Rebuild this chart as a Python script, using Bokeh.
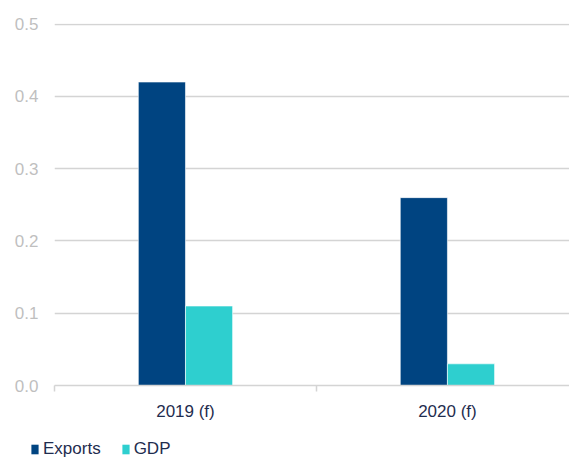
from bokeh.plotting import figure
from bokeh.models import (ColumnDataSource, FixedTicker, Range1d, Legend, LegendItem,
                          NumeralTickFormatter)
from bokeh.transform import dodge
from bokeh.embed import file_html
from bokeh.resources import INLINE

categories = ["2019 (f)", "2020 (f)"]
series = ["Exports", "GDP"]
exports = [0.42, 0.26]
gdp = [0.11, 0.03]
y_ticks = [0.0, 0.1, 0.2, 0.3, 0.4, 0.5]
colors = ["#004481", "#2ECFCF"]

xs = [i + 0.5 for i in range(len(categories))]
src = ColumnDataSource(dict(x=xs, cat=categories, exports=exports, gdp=gdp))

p = figure(width=569, height=425, output_backend="svg", toolbar_location=None,
           x_range=Range1d(0, 1.966), y_range=Range1d(0, 0.501),
           min_border_left=54, min_border_right=0, min_border_top=23, min_border_bottom=40)
p.background_fill_color = "white"
p.border_fill_color = "white"
p.outline_line_color = None

p.vbar(x=dodge("x", -0.09, range=p.x_range), top="exports", width=0.18, source=src,
       fill_color=colors[0], line_color="#FFFFFF", line_width=0.6)
p.vbar(x=dodge("x", 0.09, range=p.x_range), top="gdp", width=0.18, source=src,
       fill_color=colors[1], line_color="#FFFFFF", line_width=0.6)

# x axis
xa = p.xaxis[0]
xa.ticker = FixedTicker(ticks=xs, minor_ticks=list(range(len(categories) + 1)))
xa.major_label_overrides = {x: c for x, c in zip(xs, categories)}
xa.axis_line_color = "#D4D4D4"
xa.axis_line_width = 1.5
xa.major_tick_line_color = None
xa.minor_tick_line_color = "#D4D4D4"
xa.minor_tick_line_width = 1.5
xa.minor_tick_out = 6
xa.minor_tick_in = 0
xa.major_label_text_font = "Liberation Sans"
xa.major_label_text_font_size = "17px"
xa.major_label_text_color = "#1F2D4F"
xa.major_label_standoff = 10
p.xgrid.grid_line_color = None

# y axis
ya = p.yaxis[0]
ya.ticker = FixedTicker(ticks=y_ticks)
ya.formatter = NumeralTickFormatter(format="0.0")
ya.axis_line_color = None
ya.major_tick_line_color = None
ya.minor_tick_line_color = None
ya.major_tick_out = 0
ya.major_tick_in = 0
ya.major_label_text_font = "Liberation Sans"
ya.major_label_text_font_size = "17px"
ya.major_label_text_color = "#BFBFBF"
ya.major_label_standoff = 16
p.ygrid.grid_line_color = "#D4D4D4"
p.ygrid.grid_line_width = 1.3

# legend strip below the chart (separate root so its frame is not aligned to the chart)
lg = figure(width=569, height=34, output_backend="svg", toolbar_location=None,
            x_range=Range1d(0, 1), y_range=Range1d(0, 1),
            x_axis_location=None, y_axis_location=None,
            min_border=0, min_border_left=0, min_border_right=0,
            min_border_top=0, min_border_bottom=0)
lg.grid.visible = False
lg.outline_line_color = None
lg.background_fill_color = "white"
lg.border_fill_color = "white"
items = []
for name, c in zip(series, colors):
    # legend swatch renderer (its single bar sits outside the visible range)
    r = lg.vbar(x=[-5], top=[-5], bottom=[-6], width=0.1, fill_color=c, line_color=None)
    items.append(LegendItem(label=name, renderers=[r]))

legend = Legend(items=items, location=(30, 0), orientation="horizontal")
legend.background_fill_alpha = 0
legend.border_line_color = None
legend.padding = 0
legend.margin = 0
legend.spacing = 20
legend.glyph_width = 9
legend.glyph_height = 12
legend.label_height = 16
legend.label_standoff = 4
legend.label_text_font = "Liberation Sans"
legend.label_text_font_size = "17px"
legend.label_text_color = "#1F2D4F"
legend.label_text_baseline = "middle"
lg.add_layout(legend, "center")

open("out.html", "w").write(file_html([p, lg], INLINE))
